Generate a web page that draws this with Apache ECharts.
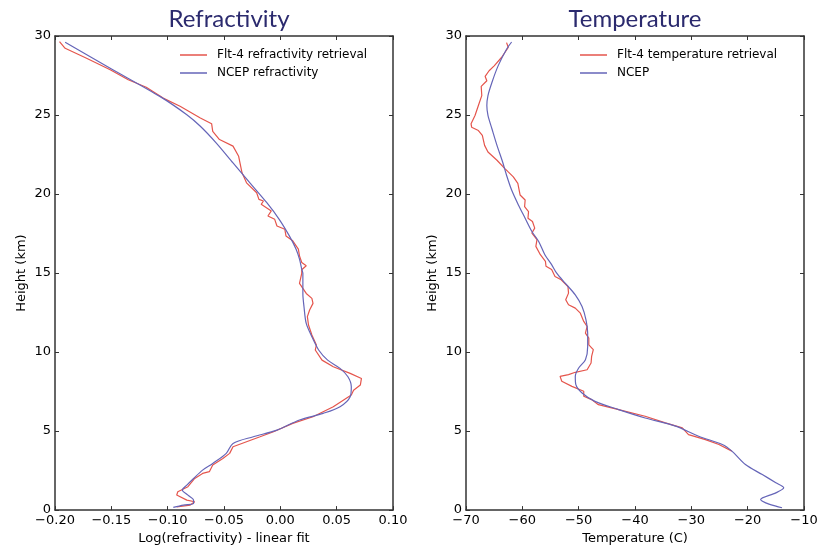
<!DOCTYPE html>
<html>
<head>
<meta charset="utf-8">
<script src="https://cdn.jsdelivr.net/npm/echarts@6/dist/echarts.min.js"></script>
<style>
html,body{margin:0;padding:0;background:#fff;}
#chart{width:824px;height:550px;}
</style>
</head>
<body>
<div id="chart"></div>
<script>
// ---- Refractivity panel ----
const refrRetrievalH = [29.64,29.22,28.59,27.86,27.23,26.76,26.07,25.55,24.81,24.45,23.97,23.45,23.03,22.39,21.34,20.71,20.08,19.66,19.56,19.35,18.93,18.61,18.40,17.98,17.77,17.35,17.04,16.51,16.09,15.67,15.46,15.21,14.98,14.35,14.03,13.71,13.40,13.08,12.66,12.24,11.71,11.08,10.44,10.13,9.49,9.07,8.65,8.33,7.91,7.59,7.28,6.54,5.91,5.49,4.96,4.64,4.01,3.59,3.27,2.85,2.43,2.32,2.00,1.48,1.16,0.95,0.63,0.53,0.32,0.21];
const refrRetrievalX = [-0.196,-0.191,-0.172,-0.151,-0.135,-0.119,-0.104,-0.089,-0.071,-0.061,-0.060,-0.054,-0.042,-0.037,-0.034,-0.030,-0.021,-0.019,-0.015,-0.017,-0.008,-0.011,-0.005,-0.003,0.004,0.005,0.011,0.016,0.017,0.019,0.023,0.019,0.019,0.017,0.020,0.023,0.028,0.029,0.026,0.024,0.025,0.028,0.032,0.031,0.037,0.047,0.062,0.072,0.071,0.065,0.063,0.047,0.029,0.011,-0.006,-0.018,-0.042,-0.045,-0.051,-0.060,-0.063,-0.069,-0.076,-0.082,-0.091,-0.092,-0.083,-0.076,-0.080,-0.092];

const refrNcepH = [29.60,27.96,26.18,25.02,24.29,23.24,21.97,20.71,19.45,18.40,17.35,16.51,15.88,15.25,14.98,13.71,12.87,11.81,10.97,10.13,9.49,8.97,8.44,7.81,7.17,6.54,6.12,5.70,5.06,4.64,4.22,3.59,2.95,2.53,2.00,1.58,1.27,0.95,0.63,0.42,0.32,0.17];
const refrNcepX = [-0.191,-0.151,-0.107,-0.083,-0.071,-0.057,-0.042,-0.027,-0.012,-0.001,0.008,0.014,0.017,0.019,0.020,0.020,0.021,0.023,0.028,0.034,0.042,0.053,0.060,0.063,0.062,0.053,0.038,0.017,-0.003,-0.024,-0.042,-0.048,-0.060,-0.069,-0.077,-0.083,-0.087,-0.082,-0.077,-0.077,-0.086,-0.095];

// ---- Temperature panel ----
const tempRetrievalH = [29.58,29.27,28.64,28.11,27.80,27.44,27.17,26.81,26.23,25.60,24.97,24.44,24.23,24.02,23.71,23.08,22.66,22.14,21.61,21.40,21.09,20.67,19.94,19.62,19.20,18.89,18.47,18.26,17.84,17.53,17.11,16.69,16.16,15.74,15.43,15.22,14.78,14.57,14.15,13.73,13.31,12.99,12.78,12.46,11.94,11.62,11.20,10.88,10.46,10.15,9.73,9.31,8.88,8.72,8.57,8.46,8.15,7.83,7.52,7.20,6.99,6.67,6.36,5.94,5.52,5.20,4.78,4.46,4.15,3.73];
const tempRetrievalT = [-62.8,-62.5,-63.7,-65.0,-65.9,-66.6,-66.3,-67.3,-67.2,-67.8,-68.4,-69.1,-69.0,-67.8,-67.1,-66.7,-66.1,-64.5,-63.1,-62.5,-61.6,-60.8,-60.4,-59.5,-59.6,-58.9,-59.0,-58.2,-57.8,-58.3,-57.4,-57.6,-56.8,-55.9,-55.8,-54.8,-54.2,-53.1,-51.9,-51.8,-52.3,-51.8,-50.6,-49.7,-49.1,-48.5,-48.8,-48.2,-48.2,-47.4,-47.7,-47.8,-48.5,-50.6,-51.8,-53.3,-53.0,-51.2,-49.1,-49.1,-47.7,-46.5,-42.9,-38.2,-34.6,-31.6,-30.5,-27.5,-25.1,-22.8];

const tempNcepH = [29.62,29.16,28.11,27.06,26.23,25.60,24.97,24.13,23.08,22.03,21.19,20.25,19.31,18.47,17.63,17.00,16.16,15.53,14.99,14.36,13.62,12.88,12.04,11.20,10.36,9.52,8.99,8.46,7.94,7.41,6.88,6.36,5.83,5.31,4.67,4.15,3.73,2.88,2.25,1.73,1.41,1.09,0.67,0.46,0.25,0.15];
const tempNcepT = [-61.9,-62.8,-64.3,-65.4,-66.1,-66.3,-66.1,-65.4,-64.5,-63.5,-62.8,-61.9,-60.7,-59.5,-58.3,-57.1,-56.0,-54.8,-53.9,-52.4,-50.6,-49.4,-48.7,-48.4,-48.4,-48.8,-50.0,-50.6,-50.5,-49.4,-47.1,-42.9,-38.2,-32.8,-28.7,-24.5,-22.8,-20.4,-17.4,-15.0,-13.6,-15.0,-17.7,-16.8,-15.0,-13.9];

const refrTicks = {min:-0.2, max:0.1, interval:0.05};
const tempTicks = {min:-70, max:-10, interval:10};
const heightTicks = {min:0, max:30, interval:5};

const panelTitles = ['Refractivity','Temperature'];
const xNames = ['Log(refractivity) - linear fit','Temperature (C)'];
const yName = 'Height (km)';
const seriesNames = ['Flt-4 refractivity retrieval','NCEP refractivity','Flt-4 temperature retrieval','NCEP'];

function zip(xs, hs){ return xs.map((x,i)=>[x, hs[i]]); }

const RED = '#e5554c';
const BLUE = '#6565b8';
const AX = '#333333';
const FONT = 'DejaVu Sans';
const TXT = '#000';

function fmtMinus(v, dec){
  const s = Math.abs(v).toFixed(dec);
  return (v < -1e-9 ? '\u2212' : '') + s;
}

const grids = [
  {left:55, right:431, top:36, bottom:38},
  {left:466, right:20, top:36, bottom:38}
];

function xAxisMain(g, t, name, dec){
  return {
    type:'value', gridIndex:g, position:'bottom', min:t.min, max:t.max, interval:t.interval,
    name:name, nameLocation:'middle', nameGap:20,
    nameTextStyle:{fontFamily:FONT, fontSize:13, color:TXT},
    axisLine:{show:true, onZero:false, lineStyle:{color:AX, width:1.5}},
    axisTick:{show:true, inside:true, length:4, lineStyle:{color:AX}},
    axisLabel:{fontFamily:FONT, fontSize:13, color:TXT, margin:4, formatter:v=>fmtMinus(v,dec)},
    splitLine:{show:false}
  };
}
function xAxisTop(g, t){
  return {
    type:'value', gridIndex:g, position:'top', min:t.min, max:t.max, interval:t.interval,
    axisLine:{show:true, onZero:false, lineStyle:{color:AX, width:1.5}},
    axisTick:{show:true, inside:true, length:4, lineStyle:{color:AX}},
    axisLabel:{show:false}, splitLine:{show:false}
  };
}
function yAxisMain(g){
  return {
    type:'value', gridIndex:g, position:'left', min:heightTicks.min, max:heightTicks.max, interval:heightTicks.interval,
    name:yName, nameLocation:'middle', nameGap:27,
    nameTextStyle:{fontFamily:FONT, fontSize:13, color:TXT},
    axisLine:{show:true, onZero:false, lineStyle:{color:AX, width:1.5}},
    axisTick:{show:true, inside:true, length:4, lineStyle:{color:AX}},
    axisLabel:{fontFamily:FONT, fontSize:13, color:TXT, margin:4},
    splitLine:{show:false}
  };
}
function yAxisRight(g){
  return {
    type:'value', gridIndex:g, position:'right', min:heightTicks.min, max:heightTicks.max, interval:heightTicks.interval,
    axisLine:{show:true, onZero:false, lineStyle:{color:AX, width:1.5}},
    axisTick:{show:true, inside:true, length:4, lineStyle:{color:AX}},
    axisLabel:{show:false}, splitLine:{show:false}
  };
}

function lineSeries(name, data, color, xi, yi, smooth){
  return {
    name:name, type:'line', data:data, xAxisIndex:xi, yAxisIndex:yi,
    symbol:'none', showSymbol:false, smooth:smooth, animation:false,
    lineStyle:{color:color, width:1.2}, itemStyle:{color:color}
  };
}

function legendFor(names, left){
  return {
    data:names, orient:'vertical', left:left, top:48, padding:0,
    icon:'rect', itemWidth:27, itemHeight:1.5, itemGap:4,
    textStyle:{fontFamily:FONT, fontSize:12, color:TXT, lineHeight:14, padding:[0,0,0,5]}
  };
}

const option = {
  backgroundColor:'#fff',
  animation:false,
  grid: grids,
  xAxis: [
    xAxisMain(0, refrTicks, xNames[0], 2),
    xAxisMain(1, tempTicks, xNames[1], 0),
    xAxisTop(0, refrTicks),
    xAxisTop(1, tempTicks)
  ],
  yAxis: [yAxisMain(0), yAxisMain(1), yAxisRight(0), yAxisRight(1)],
  legend: [
    legendFor([seriesNames[0], seriesNames[1]], 180),
    legendFor([seriesNames[2], seriesNames[3]], 580)
  ],
  graphic: [
    {type:'text', x:229, y:19, style:{text:panelTitles[0], fill:'#2b2a6e', font:'24px Lato', textAlign:'center', textVerticalAlign:'middle'}},
    {type:'text', x:635, y:19, style:{text:panelTitles[1], fill:'#2b2a6e', font:'24px Lato', textAlign:'center', textVerticalAlign:'middle'}}
  ],
  series: [
    lineSeries(seriesNames[0], zip(refrRetrievalX, refrRetrievalH), RED, 0, 0, false),
    lineSeries(seriesNames[1], zip(refrNcepX, refrNcepH), BLUE, 0, 0, 0.3),
    lineSeries(seriesNames[2], zip(tempRetrievalT, tempRetrievalH), RED, 1, 1, false),
    lineSeries(seriesNames[3], zip(tempNcepT, tempNcepH), BLUE, 1, 1, 0.3)
  ]
};

const chart = echarts.init(document.getElementById('chart'), null, {renderer:'canvas'});
chart.setOption(option);
</script>
</body>
</html>
